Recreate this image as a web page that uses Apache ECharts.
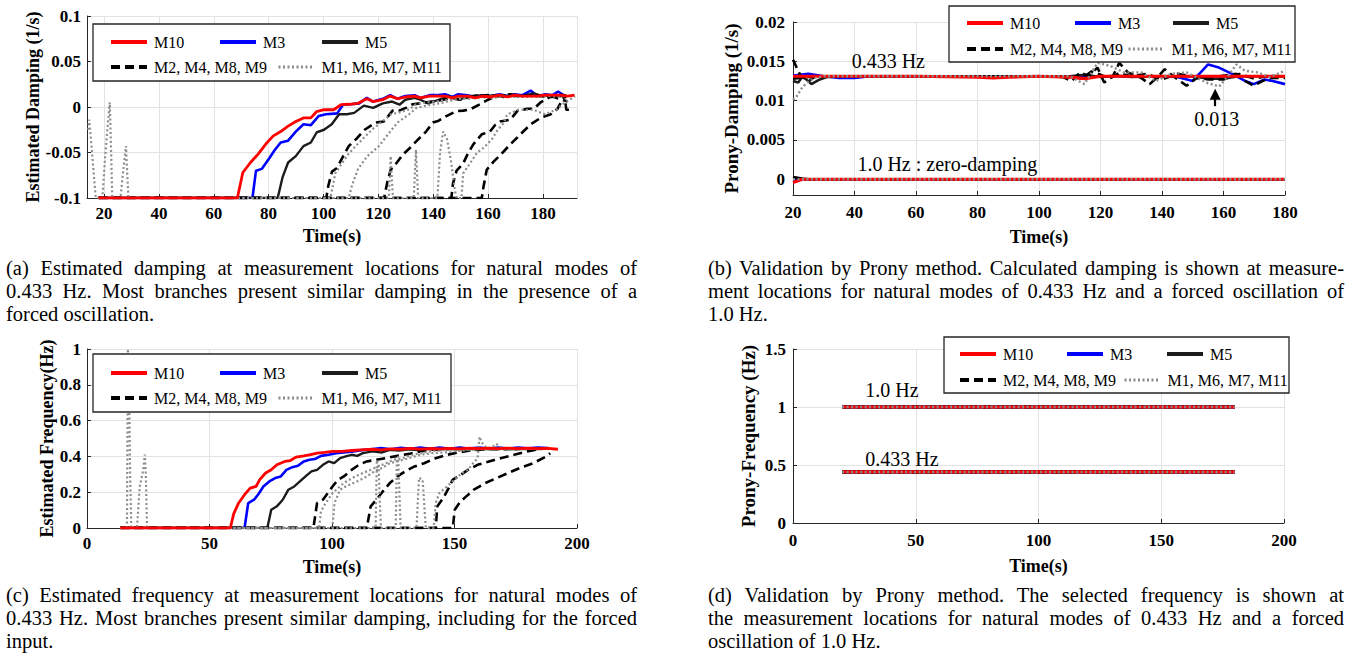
<!DOCTYPE html>
<html><head><meta charset="utf-8">
<script src="https://cdn.jsdelivr.net/npm/echarts@6/dist/echarts.min.js"></script>
<style>
html,body{margin:0;padding:0;background:#fff;}
#chart{position:absolute;left:0;top:0;width:1362px;height:655px;}
.cap{position:absolute;font-family:"Liberation Serif","Times New Roman",serif;font-size:20.5px;line-height:23px;color:#000;}
.cap div{white-space:normal;}
.cap .j{text-align:justify;text-align-last:justify;}
</style></head><body>
<div id="chart"></div>
<div class="cap" style="left:6px;top:257px;width:631px">
<div class="j">(a) Estimated damping at measurement locations for natural modes of</div>
<div class="j">0.433 Hz. Most branches present similar damping in the presence of a</div>
<div>forced oscillation.</div>
</div>
<div class="cap" style="left:708px;top:257px;width:636px">
<div class="j">(b) Validation by Prony method. Calculated damping is shown at measure-</div>
<div class="j">ment locations for natural modes of 0.433 Hz and a forced oscillation of</div>
<div>1.0 Hz.</div>
</div>
<div class="cap" style="left:6px;top:584px;width:631px">
<div class="j">(c) Estimated frequency at measurement locations for natural modes of</div>
<div class="j">0.433 Hz. Most branches present similar damping, including for the forced</div>
<div>input.</div>
</div>
<div class="cap" style="left:708px;top:584px;width:636px">
<div class="j">(d) Validation by Prony method. The selected frequency is shown at</div>
<div class="j">the measurement locations for natural modes of 0.433 Hz and a forced</div>
<div>oscillation of 1.0 Hz.</div>
</div>
<script>
const FONT = '"Liberation Serif","Times New Roman",serif';

// ---------- names ----------
const nameM10 = 'M10', nameM3 = 'M3', nameM5 = 'M5';
const nameDash = 'M2, M4, M8, M9', nameDot = 'M1, M6, M7, M11';

// ---------- ticks ----------
const ticksXA = [20,40,60,80,100,120,140,160,180];
const ticksYB = [0,0.005,0.01,0.015,0.02];

// ---------- (a) estimated damping ----------
const aM10 = [[18,-0.1],[68.6,-0.1],[70.6,-0.072],[73.4,-0.061],[76.1,-0.052],[78.9,-0.041],[81.6,-0.032],[84.4,-0.027],[87.1,-0.021],[89.9,-0.016],[92.7,-0.012],[95.4,-0.012],[97.5,-0.005],[100.2,-0.003],[103.7,-0.003],[106.4,0.0025],[109.2,0.003],[112.6,0.004],[115.8,0.009],[118.1,0.006],[121.6,0.008],[124.3,0.012],[127,0.009],[129.8,0.011],[133.2,0.012],[135.3,0.01],[138.7,0.012],[140.8,0.012],[144.3,0.012],[147,0.01],[149.1,0.012],[152.5,0.012],[155.3,0.01],[158,0.012],[160.8,0.011],[164.2,0.013],[167,0.011],[169.7,0.013],[172.5,0.012],[175.2,0.012],[178,0.012],[180.7,0.013],[183.5,0.013],[186.2,0.013],[189,0.012],[191.5,0.013]];
const aM3 = [[18,-0.1],[74.1,-0.1],[75.4,-0.07],[77.5,-0.068],[80.3,-0.056],[82.3,-0.047],[84.4,-0.039],[87.1,-0.037],[89.9,-0.027],[92.7,-0.019],[95.4,-0.02],[98.2,-0.01],[100.9,-0.008],[105,-0.007],[107.1,0.0025],[110,0.003],[113,0.004],[115.8,0.01],[118,0.006],[121.6,0.009],[124.3,0.013],[127,0.009],[129.8,0.012],[133.2,0.013],[135.3,0.01],[138.7,0.013],[141,0.013],[144.3,0.014],[147,0.011],[149.1,0.014],[152.5,0.013],[155.3,0.011],[158,0.013],[160.8,0.012],[164.2,0.014],[167,0.012],[169.7,0.014],[172.5,0.013],[175.5,0.018],[178,0.012],[181,0.014],[183.5,0.013],[185.5,0.017],[188,0.012]];
const aM5 = [[18,-0.1],[83.3,-0.1],[85.1,-0.077],[87.1,-0.061],[89.9,-0.054],[92.7,-0.043],[95.4,-0.039],[97.5,-0.028],[100.2,-0.025],[103,-0.019],[105.7,-0.008],[108.5,-0.008],[111.2,-0.0065],[114.7,0.0015],[118.1,-0.001],[121.6,0.004],[125,0.006],[127.7,0.0025],[129.8,0.008],[133.2,0.01],[135.3,0.008],[138.1,0.004],[142.2,0.008],[145.6,0.012],[149.1,0.008],[152.5,0.011],[155.9,0.013],[158.7,0.011],[162.1,0.013],[165.6,0.011],[169,0.013],[172.5,0.012],[176.6,0.015],[180,0.012],[183.5,0.013],[186.2,0.012],[188,0.013]];
const aDash1 = [[18,-0.1],[101,-0.1],[101.8,-0.086],[103.1,-0.071],[104.9,-0.067],[107,-0.055],[109.2,-0.043],[112.3,-0.034],[115,-0.025],[119,-0.017],[122,-0.016],[125.2,-0.004],[127.6,-0.004],[130,-0.001],[132.5,0.003],[135.3,0.004],[139.4,0.006],[143.6,0.008],[147,0.01],[150,0.008],[153,0.011],[156,0.012],[160,0.013],[164,0.012],[168,0.014],[172,0.012],[176,0.013],[180,0.012],[184,0.011],[189,0.006]];
const aDash2 = [[18,-0.1],[122.1,-0.1],[123.3,-0.082],[124.5,-0.069],[126.5,-0.062],[129,-0.052],[131.5,-0.045],[133.7,-0.038],[137.4,-0.027],[139.9,-0.017],[142,-0.015],[144.8,-0.01],[148.5,-0.0045],[151,-0.004],[153.4,-0.0026],[157,0.003],[160,0.008],[163,0.012],[167,0.013],[171,0.012],[175,0.013],[179,0.012],[183,0.013],[187,0.012]];
const aDash3 = [[18,-0.1],[146.6,-0.1],[147.2,-0.084],[148.5,-0.07],[150.9,-0.062],[152.5,-0.052],[154.6,-0.041],[157.7,-0.03],[160.7,-0.027],[162.5,-0.02],[164.4,-0.016],[168.1,-0.014],[170.6,-0.0045],[174.2,-0.002],[176.7,-0.002],[179.1,0.005],[182,0.01],[184.5,0.013],[186.5,0.014],[188,0.01]];
const aDash4 = [[18,-0.1],[157.7,-0.1],[158.3,-0.088],[159.5,-0.069],[162,-0.06],[164.4,-0.053],[168.1,-0.041],[171.8,-0.03],[175.5,-0.019],[179.1,-0.012],[182.8,-0.008],[185.3,-0.002],[186.5,0.005],[188,0.014],[188.3,0.002],[188.5,-0.003],[189.5,-0.003]];
const aDot1 = [[14.2,-0.025],[14.6,-0.014],[15.5,-0.045],[16.3,-0.075],[17,-0.1],[19.4,-0.1],[20.3,-0.06],[21.2,-0.025],[22.1,0.005],[22.6,-0.05],[23,-0.1],[26,-0.1],[27,-0.07],[28,-0.043],[28.5,-0.075],[28.9,-0.1],[102.5,-0.1],[104.3,-0.073],[106.7,-0.062],[109,-0.052],[111.7,-0.043],[115.3,-0.032],[118,-0.024],[121.5,-0.016],[124.5,-0.008],[127.6,-0.006],[131.3,-0.0026],[133.7,0.003],[137.4,0.005],[141,0.006],[145,0.008],[149,0.01],[153,0.009],[157,0.011],[161,0.012],[165,0.011],[169,0.012],[173,0.011],[177,0.012],[181,0.012],[185,0.013],[188,0.011]];
const aDot2 = [[18,-0.1],[109.2,-0.1],[110.5,-0.085],[112.6,-0.068],[116,-0.054],[120.2,-0.043],[123.5,-0.03],[127,-0.017],[131.2,-0.008],[133.9,-0.001],[137.4,0.0015],[142.2,0.004],[146.3,0.007],[150,0.009],[154,0.01],[158,0.011],[162,0.01],[166,0.012],[170,0.011],[174,0.012],[178,0.011],[182,0.012],[186,0.011]];
const aDot3 = [[18,-0.1],[123.8,-0.1],[124.5,-0.054],[125.3,-0.1],[132.9,-0.1],[133.7,-0.047],[134.5,-0.1],[141.5,-0.1],[142.5,-0.05],[143.6,-0.027],[145,-0.035],[146.5,-0.06],[147.8,-0.09],[148.5,-0.1],[150.3,-0.1],[150.9,-0.073],[153.4,-0.062],[156,-0.05],[158.3,-0.045],[161.5,-0.035],[163.5,-0.025],[165.6,-0.018],[167,-0.008],[171,-0.003],[176.6,-0.003],[180.7,-0.008],[184.8,-0.003],[187.6,0.004],[191.7,0.012]];

// ---------- (b) Prony damping ----------
const bM10Mode = [[20,0.0131],[40,0.0131],[60,0.0131],[80,0.013],[85,0.0129],[90,0.013],[100,0.0131],[110,0.013],[115,0.0128],[120,0.0131],[140,0.0131],[160,0.0131],[180,0.0131]];
const bM10Forced = [[20,-0.0004],[23,0],[180,0]];
const bM3Mode = [[20,0.0132],[25,0.0134],[30,0.0131],[35,0.0129],[40,0.0129],[45,0.0131],[60,0.0131],[80,0.0131],[100,0.0131],[120,0.0131],[140,0.0131],[145,0.013],[150,0.0125],[155,0.0146],[158.5,0.0142],[162.8,0.0134],[167,0.0125],[169.8,0.0121],[173.4,0.0127],[176,0.0125],[180,0.0121]];
const bM3Forced = [[20,0],[180,0]];
const bM5Mode = [[20,0.0125],[21.7,0.0123],[23,0.013],[24,0.0128],[26,0.0121],[28.7,0.0127],[31,0.013],[40,0.0131],[80,0.0131],[110,0.0131],[115,0.0133],[120,0.013],[125,0.0132],[130,0.013],[140,0.0131],[150,0.0131],[155,0.0128],[160,0.0128],[165,0.0131],[180,0.0131]];
const bM5Forced = [[20,0.0002],[25,0],[180,0]];
const bDashMode1 = [[20,0.0152],[22.4,0.0132],[25.2,0.0125],[27.3,0.0131],[40,0.0131],[100,0.0131],[107.8,0.013],[110.6,0.0125],[113.4,0.0136],[116,0.0131],[119,0.0142],[121.2,0.0123],[124,0.0131],[126.1,0.0148],[128.9,0.0136],[133.2,0.0129],[136,0.0121],[138.8,0.0131],[140.9,0.014],[143.7,0.0131],[148,0.0119],[151,0.0128],[154.3,0.0131],[158.6,0.0131],[164.2,0.0134],[167,0.0125],[169.8,0.0119],[172.7,0.0125],[175.5,0.0129],[180,0.0129]];
const bDashMode2 = [[20,0.0128],[25,0.013],[30,0.0131],[100,0.0131],[110,0.0131],[114,0.0128],[117,0.0137],[120,0.0133],[123,0.0128],[126,0.0135],[130,0.0131],[135,0.0134],[140,0.0127],[145,0.0134],[150,0.0131],[155,0.0127],[160,0.0127],[165,0.0134],[170,0.0128],[175,0.0132],[180,0.013]];
const bDashForced = [[20,0.0003],[24,0],[180,0]];
const bDotMode = [[20,0.0101],[21,0.0104],[23,0.0117],[25.2,0.0125],[27.3,0.0129],[30,0.0131],[100,0.0131],[110,0.0131],[114.8,0.0121],[119,0.0148],[123.3,0.0144],[127.5,0.0136],[133.2,0.0136],[138,0.0125],[143,0.0134],[148,0.0136],[154.3,0.0123],[158.6,0.0118],[161,0.0129],[164.2,0.0146],[167,0.0138],[171,0.0136],[175,0.013],[180,0.0138]];
const bDotForced = [[20,0],[180,0]];

// ---------- (c) estimated frequency ----------
const cM10 = [[13.6,0],[58.5,0],[59.9,0.08],[61.9,0.14],[64.3,0.186],[66.6,0.223],[69,0.232],[70.5,0.27],[72.9,0.307],[75.2,0.325],[77.5,0.353],[80.7,0.372],[83,0.377],[85.3,0.396],[88.5,0.403],[90.8,0.409],[93.9,0.418],[97,0.422],[100.2,0.428],[104,0.428],[108,0.433],[111.9,0.437],[116.5,0.44],[120,0.437],[124,0.442],[128,0.44],[132,0.445],[136,0.441],[140,0.444],[144,0.442],[148,0.445],[152,0.442],[156,0.446],[160,0.443],[164,0.446],[168,0.443],[172,0.446],[176,0.443],[180,0.446],[184,0.443],[188,0.445],[192.2,0.44]];
const cM3 = [[13.6,0],[64.3,0],[65.8,0.139],[68.2,0.158],[70,0.19],[72,0.232],[74.4,0.26],[76.8,0.279],[79.1,0.288],[81.4,0.325],[83.8,0.34],[86.1,0.348],[88.5,0.372],[90.8,0.381],[93,0.385],[95.5,0.403],[98.6,0.409],[101.7,0.418],[104.8,0.422],[108.7,0.428],[112,0.435],[116,0.44],[120,0.446],[124,0.44],[128,0.448],[132,0.442],[136,0.449],[140,0.443],[144,0.449],[148,0.443],[152,0.45],[156,0.444],[160,0.449],[164,0.444],[168,0.45],[172,0.444],[176,0.449],[180,0.445],[184,0.45],[188,0.446]];
const cM5 = [[13.6,0],[73.6,0],[75.2,0.102],[77.5,0.121],[79.9,0.158],[82.2,0.214],[84.6,0.232],[86.9,0.26],[89.2,0.288],[91.6,0.316],[93.9,0.325],[96.3,0.353],[98.6,0.372],[100.9,0.362],[103.3,0.39],[105.6,0.4],[108,0.409],[110.3,0.403],[112.6,0.418],[116.5,0.428],[120.4,0.422],[123.6,0.437],[127.5,0.433],[131.4,0.44],[135,0.436],[139,0.443],[143,0.438],[147,0.444],[151,0.439],[155,0.445],[159,0.44],[163,0.445],[167,0.44],[171,0.445],[175,0.44],[179,0.445],[183,0.441],[189,0.444]];
const cDash1 = [[13.6,0],[92.4,0],[93.9,0.139],[96.3,0.158],[98,0.19],[100.2,0.232],[102.5,0.27],[104.8,0.288],[108,0.325],[111,0.353],[114.2,0.372],[118.1,0.381],[122,0.39],[126.7,0.403],[131.4,0.414],[136,0.428],[140.7,0.437],[145,0.44],[150,0.443],[155,0.44],[160,0.444],[165,0.441],[170,0.444],[175,0.441],[180,0.444],[186,0.442]];
const cDash2 = [[13.6,0],[114.2,0],[115.8,0.121],[118.1,0.158],[120.5,0.2],[123.6,0.251],[126.7,0.288],[129.8,0.316],[133.7,0.344],[137.6,0.362],[142.3,0.39],[147,0.409],[151.6,0.422],[156.3,0.433],[161,0.438],[166,0.442],[171,0.44],[176,0.443],[181,0.441],[186,0.443]];
const cDash3 = [[13.6,0],[142.3,0],[143,0.121],[145.4,0.167],[147.5,0.22],[149.3,0.27],[151.6,0.288],[155.5,0.325],[159.4,0.353],[164.1,0.372],[168.8,0.39],[174.3,0.409],[179.7,0.428],[184.4,0.44],[188.3,0.446]];
const cDash4 = [[13.6,0],[149.3,0],[150.1,0.102],[152,0.14],[154,0.167],[157.9,0.214],[162.6,0.251],[167.2,0.279],[171.9,0.307],[176.6,0.335],[182.1,0.362],[187.5,0.4],[189.1,0.418]];
const cDot1 = [[16.3,0],[16.7,1.0],[17.3,0.65],[17.6,0.3],[18.1,0],[20.4,0],[21.5,0.23],[22.9,0.32],[23.6,0.41],[24,0.3],[24.5,0],[94.7,0],[95.5,0.093],[97,0.13],[100.2,0.195],[102.5,0.223],[104.8,0.251],[109.5,0.288],[112.6,0.307],[115.8,0.325],[118.9,0.344],[122,0.362],[125.1,0.381],[129,0.39],[132.9,0.409],[137,0.42],[141,0.43],[146,0.436],[151,0.44],[156,0.438],[161,0.442],[166,0.44],[171,0.443],[176,0.44],[181,0.443],[186,0.441]];
const cDot2 = [[13.6,0],[100.2,0],[101,0.139],[103.3,0.214],[105.6,0.232],[108,0.247],[111,0.265],[114.2,0.288],[117.3,0.316],[120.4,0.335],[123.6,0.362],[127.5,0.375],[131.4,0.39],[136,0.409],[140.7,0.418],[145.4,0.422],[150,0.428],[155,0.435],[160,0.44],[165,0.438],[170,0.442],[175,0.44],[180,0.443],[185,0.44]];
const cDot3 = [[13.6,0],[117.8,0],[118.3,0.38],[119,0.36],[119.5,0.15],[120,0],[126,0],[126.5,0.38],[127,0.4],[127.5,0.2],[128,0],[134.5,0],[135.5,0.28],[137,0.27],[137.8,0.1],[138.3,0],[141.5,0],[142.3,0.139],[143.8,0.195],[146.2,0.223],[148.5,0.251],[150.8,0.28],[153.2,0.307],[155.5,0.325],[157.5,0.36],[159.4,0.39],[160.2,0.51],[161,0.48],[162.6,0.455],[164.9,0.446],[167,0.47],[169,0.45],[173,0.443],[178,0.446],[183,0.442],[188,0.445]];

// ---------- (d) Prony frequency ----------
const dForced = [[20,1.0],[180,1.0]];
const dMode = [[20,0.44],[180,0.44]];

// ---------- annotations ----------
const annB = [{name:'0.433 Hz', coord:[51,0.01504]},{name:'1.0 Hz : zero-damping', coord:[70.2,0.00193]},{name:'0.013', coord:[157.8,0.00772]}];
const arrowB = [[157.3,0.0093],[157.3,0.0108]];
const annD = [{name:'1.0 Hz', coord:[40.3,1.146]},{name:'0.433 Hz', coord:[44.4,0.556]}];

// ---------- styles ----------
const ST = {
  m10:{name:nameM10,color:'#ff0000',type:'solid'},
  m3:{name:nameM3,color:'#0000ff',type:'solid'},
  m5:{name:nameM5,color:'#1c1c1c',type:'solid'},
  dash:{name:nameDash,color:'#000000',type:[9,5]},
  dot:{name:nameDot,color:'#8c8c8c',type:[2,2.5]}
};
function S(st, data, idx, width, z, extra){
  return Object.assign({type:'line', name:st.name, data:data, xAxisIndex:idx, yAxisIndex:idx,
    symbol:'none', showSymbol:false, silent:true, animation:false, z:z,
    lineStyle:{color:st.color, width:width, type:st.type, cap:'butt'}, itemStyle:{color:st.color}}, extra||{});
}
const series = [
  // (a)
  S(ST.m3,aM3,0,2.6,3), S(ST.m5,aM5,0,2.4,3),
  S(ST.dash,aDash1,0,2.6,3), S(ST.dash,aDash2,0,2.6,3), S(ST.dash,aDash3,0,2.6,3), S(ST.dash,aDash4,0,2.6,3),
  S(ST.dot,aDot1,0,2.2,4), S(ST.dot,aDot2,0,2.2,4), S(ST.dot,aDot3,0,2.2,4),
  S(ST.m10,aM10,0,2.8,5),
  // (b)
  S(ST.m3,bM3Mode,1,2.6,3), S(ST.m3,bM3Forced,1,2.6,3),
  S(ST.m5,bM5Mode,1,2.6,3), S(ST.m5,bM5Forced,1,2.6,3),
  S(ST.dash,bDashMode1,1,2.6,3), S(ST.dash,bDashMode2,1,2.6,3), S(ST.dash,bDashForced,1,2.6,3),
  S(ST.m10,bM10Mode,1,3.2,4, {
    markPoint:{symbol:'circle', symbolSize:0, silent:true, animation:false,
      label:{show:true, position:'inside', formatter:'{b}', color:'#000', fontFamily:FONT, fontSize:20},
      data:annB},
    markLine:{symbol:['none','triangle'], symbolSize:11, silent:true, animation:false, z:10,
      lineStyle:{color:'#000', width:2.2, type:'solid'}, itemStyle:{color:'#000'}, label:{show:false},
      data:[[{coord:arrowB[0]},{coord:arrowB[1]}]]}
  }),
  S(ST.m10,bM10Forced,1,3.2,4),
  S(ST.dot,bDotMode,1,2.4,5), S(ST.dot,bDotForced,1,2.4,5),
  // (c)
  S(ST.m3,cM3,2,2.6,3), S(ST.m5,cM5,2,2.4,3),
  S(ST.dash,cDash1,2,2.6,3), S(ST.dash,cDash2,2,2.6,3), S(ST.dash,cDash3,2,2.6,3), S(ST.dash,cDash4,2,2.6,3),
  S(ST.dot,cDot1,2,2.2,4), S(ST.dot,cDot2,2,2.2,4), S(ST.dot,cDot3,2,2.2,4),
  S(ST.m10,cM10,2,2.8,5),
  // (d)
  S(ST.m3,dForced,3,3.2,3), S(ST.m3,dMode,3,3.2,3),
  S(ST.m5,dForced,3,3.2,3), S(ST.m5,dMode,3,3.2,3),
  S(ST.dash,dForced,3,3.2,3), S(ST.dash,dMode,3,3.2,3),
  S(ST.m10,dForced,3,3.2,4, {
    markPoint:{symbol:'circle', symbolSize:0, silent:true, animation:false,
      label:{show:true, position:'inside', formatter:'{b}', color:'#000', fontFamily:FONT, fontSize:20},
      data:annD}
  }),
  S(ST.m10,dMode,3,3.2,4),
  S(ST.dot,dForced,3,2.4,5), S(ST.dot,dMode,3,2.4,5)
];

// ---------- axes ----------
const AX = '#262626', GRIDC = '#e2e2e2';
function xa(grid, min, max, opts){
  return Object.assign({type:'value', gridIndex:grid, min:min, max:max,
    name:'Time(s)', nameLocation:'middle',
    nameTextStyle:{fontFamily:FONT, fontWeight:'bold', fontSize:18, color:'#000'},
    axisLine:{onZero:false, lineStyle:{color:AX, width:1}},
    axisTick:{inside:true, length:4, lineStyle:{color:AX}},
    axisLabel:{fontFamily:FONT, fontWeight:'bold', fontSize:17, color:'#000'},
    splitLine:{show:true, lineStyle:{color:GRIDC, width:1}}}, opts);
}
function ya(grid, min, max, name, opts){
  return Object.assign({type:'value', gridIndex:grid, min:min, max:max,
    name:name, nameLocation:'middle', nameRotate:90,
    nameTextStyle:{fontFamily:FONT, fontWeight:'bold', fontSize:18, color:'#000'},
    axisLine:{show:true, onZero:false, lineStyle:{color:AX, width:1}},
    axisTick:{show:true, inside:true, length:4, lineStyle:{color:AX}},
    axisLabel:{fontFamily:FONT, fontWeight:'bold', fontSize:17, color:'#000'},
    splitLine:{show:true, lineStyle:{color:GRIDC, width:1}}}, opts);
}
const xAxis = [
  xa(0, 13.8, 192.4, {nameGap:29,
     axisTick:{inside:true, length:4, lineStyle:{color:AX}, customValues:ticksXA},
     axisLabel:{fontFamily:FONT, fontWeight:'bold', fontSize:17, color:'#000', margin:7, customValues:ticksXA}}),
  xa(1, 20, 180, {interval:20, nameGap:33,
     axisLabel:{fontFamily:FONT, fontWeight:'bold', fontSize:17, color:'#000', margin:9}}),
  xa(2, 0, 200, {interval:50, nameGap:30,
     axisLabel:{fontFamily:FONT, fontWeight:'bold', fontSize:17, color:'#000', margin:7}}),
  xa(3, 0, 200, {interval:50, nameGap:34,
     axisLabel:{fontFamily:FONT, fontWeight:'bold', fontSize:17, color:'#000', margin:9}})
];
const yAxis = [
  ya(0, -0.1, 0.1, 'Estimated Damping (1/s)', {interval:0.05, nameGap:43,
     axisLabel:{fontFamily:FONT, fontWeight:'bold', fontSize:17, color:'#000', margin:6}}),
  ya(1, -0.002, 0.02, 'Prony-Damping (1/s)', {nameGap:52,
     nameTextStyle:{fontFamily:FONT, fontWeight:'bold', fontSize:19, color:'#000'},
     axisTick:{inside:true, length:4, lineStyle:{color:AX}, customValues:ticksYB},
     axisLabel:{fontFamily:FONT, fontWeight:'bold', fontSize:17, color:'#000', margin:8, customValues:ticksYB}}),
  ya(2, 0, 1, 'Estimated Frequency(Hz)', {interval:0.2, nameGap:31,
     axisLabel:{fontFamily:FONT, fontWeight:'bold', fontSize:17, color:'#000', margin:6}}),
  ya(3, 0, 1.5, 'Prony-Frequency (Hz)', {interval:0.5, nameGap:35,
     nameTextStyle:{fontFamily:FONT, fontWeight:'bold', fontSize:19, color:'#000'},
     axisLabel:{fontFamily:FONT, fontWeight:'bold', fontSize:17, color:'#000', margin:7}}),
  {type:'value', gridIndex:0, position:'right', min:0, max:1,
   axisLine:{show:true, onZero:false, lineStyle:{color:GRIDC, width:1}},
   axisTick:{show:false}, axisLabel:{show:false}, splitLine:{show:false}}
];

// ---------- legends ----------
function L(name, left, center, width){
  return {data:[name], left:left, top:center-8, padding:0, itemWidth:36, itemHeight:14, itemGap:0,
    selectedMode:false, z:10, orient:'horizontal',
    lineStyle:{width:width},
    itemStyle:{color:'rgba(0,0,0,0)', borderColor:'rgba(0,0,0,0)', borderWidth:0, opacity:0},
    textStyle:{fontFamily:FONT, fontSize:16, color:'#000', padding:[0,0,0,2]}};
}
function legendSet(x1,x2,x3,xd,xg,r1,r2){
  return [L(nameM10,x1,r1,4), L(nameM3,x2,r1,4), L(nameM5,x3,r1,4), L(nameDash,xd,r2,4), L(nameDot,xg,r2,3)];
}
const legend = [].concat(
  legendSet(109,218,320,109,277,42,67),
  legendSet(965,1073,1171,965,1127,23,49),
  legendSet(109,218,320,109,277,373,398),
  legendSet(958,1065,1165,958,1123,354,380)
);
function box(x,y,w,h){
  return {type:'rect', z:8, silent:true, shape:{x:x,y:y,width:w,height:h},
    style:{fill:'#fff', stroke:'#262626', lineWidth:1.3}};
}

const chart = echarts.init(document.getElementById('chart'), null, {renderer:'svg'});
chart.setOption({
  animation:false,
  backgroundColor:'#fff',
  grid:[
    {left:87, top:16, width:490, height:182},
    {left:793, top:22, width:492, height:173},
    {left:87, top:349, width:490, height:179},
    {left:793, top:349, width:491, height:174}
  ],
  xAxis:xAxis, yAxis:yAxis, legend:legend, series:series,
  graphic:[box(93,24,357,57), box(949,6,346,56), box(93,354,358,58), box(944,337,345,56)]
});
</script>
</body></html>
